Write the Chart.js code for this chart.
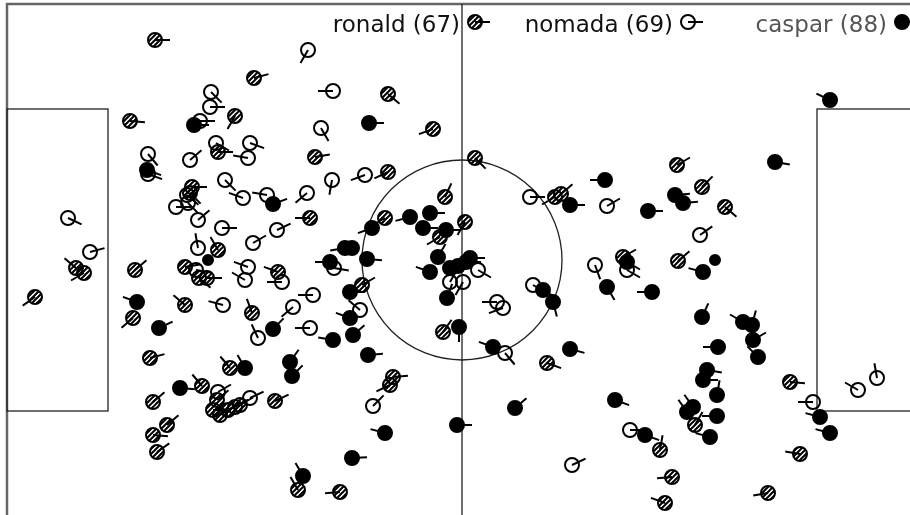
<!DOCTYPE html>
<html>
<head>
<meta charset="utf-8">
<script src="https://cdn.jsdelivr.net/npm/chart.js@4.4.1/dist/chart.umd.min.js"></script>
<style>
  body { margin: 0; background: #fff; }
  #wrap { width: 910px; height: 515px; }
</style>
</head>
<body>
<div id="wrap"><canvas id="pitch"></canvas></div>
<script>

// [x, y, direction in degrees, 0 = right, 90 = down]; null direction = no tick
const ronald = [
  [155,40,0],[254,78,-15],[388,94,40],[130,121,5],[235,116,120],[433,129,160],
  [218,152,0],[192,187,0],[190,193,45],[218,250,-120],[315,157,-10],[388,172,155],
  [310,218,180],[445,197,-65],[475,158,45],[555,197,150],[561,194,-40],[385,218,150],
  [440,237,150],[465,222,120],[362,285,-30],[443,332,-55],[393,377,-5],[547,363,20],
  [623,257,-30],[678,261,-40],[677,165,-30],[702,187,-45],[725,207,40],[76,268,-140],
  [84,273,150],[35,297,145],[135,270,-40],[185,267,-10],[199,278,40],[207,278,0],
  [278,272,200],[133,318,140],[185,305,220],[252,313,-110],[150,358,-15],[230,368,-130],
  [202,386,-130],[153,402,-40],[217,400,-40],[213,410,0],[220,415,-30],[228,410,-30],
  [235,407,-30],[240,405,-30],[275,401,-25],[167,425,-40],[153,435,5],[157,452,-35],
  [298,490,-120],[340,492,175],[390,385,155],[695,425,-60],[660,450,-80],[672,477,175],
  [665,503,200],[768,493,170],[800,454,190],[790,382,5]
]

const nomada = [
  [308,50,120],[333,91,180],[211,92,45],[210,107,0],[200,121,0],[321,128,60],
  [216,143,30],[190,160,-40],[250,143,20],[248,158,190],[148,154,50],[148,174,20],
  [225,180,45],[243,198,200],[187,195,40],[176,207,0],[188,203,45],[198,220,-40],
  [222,228,0],[253,243,-30],[277,230,-25],[267,195,190],[198,248,-100],[90,252,-15],
  [68,218,25],[332,180,100],[307,193,140],[365,175,160],[530,197,0],[607,206,-30],
  [700,235,-35],[334,268,10],[478,270,30],[450,282,-60],[463,282,120],[360,310,220],
  [313,295,180],[310,328,180],[533,285,30],[497,302,180],[503,308,160],[505,353,50],
  [595,265,70],[627,270,30],[196,270,10],[248,267,200],[245,280,210],[282,282,180],
  [223,305,195],[258,338,-115],[293,307,140],[218,392,-30],[250,398,-25],[373,406,-45],
  [572,465,-25],[630,430,0],[813,402,180],[858,390,210],[877,378,-100]
]

const caspar = [
  [830,100,205],[194,125,0],[369,123,0],[147,170,20],[273,204,-20],[570,205,0],
  [605,180,180],[410,217,165],[430,213,0],[423,228,0],[446,230,0],[372,228,160],
  [345,248,170],[352,248,170],[367,259,5],[330,262,180],[438,257,-60],[430,272,200],
  [450,268,0],[458,266,0],[466,262,0],[470,258,0],[447,298,-70],[350,292,0],
  [350,318,200],[353,335,-40],[333,340,190],[368,355,-5],[459,327,90],[543,290,30],
  [553,302,75],[493,347,200],[570,349,15],[627,262,30],[715,260,null],[703,272,195],
  [607,287,60],[652,292,180],[702,317,-65],[743,322,-150],[752,325,-75],[753,340,-30],
  [758,357,-135],[718,347,180],[707,370,10],[703,380,0],[775,162,10],[648,211,0],
  [675,195,-5],[683,203,-5],[208,260,null],[137,302,200],[159,328,-25],[273,329,-45],
  [245,368,-120],[290,362,-55],[292,376,-45],[180,388,5],[303,476,-120],[385,433,195],
  [352,458,-3],[457,425,0],[515,408,-40],[615,400,20],[717,395,-80],[687,412,-125],
  [693,407,-125],[717,416,180],[710,437,195],[645,435,20],[820,417,195],[830,433,195]
]

const seriesNames = ["ronald (67)", "nomada (69)", "caspar (88)"]


function hatch(){
    const c = document.createElement("canvas")
    const s = 5
    c.width = s
    c.height = s
    const g = c.getContext("2d")
    g.strokeStyle = "#000"
    g.lineWidth = 2
    g.beginPath()
    g.moveTo(0, s); g.lineTo(s, 0)
    g.moveTo(-1, 1); g.lineTo(1, -1)
    g.moveTo(s - 1, s + 1); g.lineTo(s + 1, s - 1)
    g.stroke()
    return g.createPattern(c, "repeat")
}

const hatched = hatch()
const fills = [hatched, "rgba(0,0,0,0)", "#000"]
const textColors = ["#111", "#111", "#555"]

function toPoints(list){
    return list.map(p => ({x: p[0], y: p[1], dir: p[2]}))
}

const datasets = []

;[ronald, nomada, caspar].forEach((list, i) => {

    datasets.push({
        label: seriesNames[i],
        data: toPoints(list),
        pointStyle: "circle",
        pointRadius: ctx => ctx.raw && ctx.raw.dir === null ? 5 : 7,
        pointBorderWidth: 2,
        pointBorderColor: "#000",
        pointBackgroundColor: fills[i],
        order: 2 * (2 - i) + 2
    })

    datasets.push({
        label: seriesNames[i] + " dir",
        data: toPoints(list).filter(p => p.dir !== null),
        pointStyle: "dash",
        pointRadius: 15,
        pointRotation: ctx => ctx.raw ? ctx.raw.dir : 0,
        pointBorderWidth: 2,
        pointBorderColor: "#000",
        order: 2 * (2 - i) + 1
    })

})


const pitchLines = {
    id: "pitchLines",
    beforeDatasetsDraw(chart){
        const {ctx} = chart
        const sx = chart.scales.x
        const sy = chart.scales.y
        const px = v => sx.getPixelForValue(v)
        const py = v => sy.getPixelForValue(v)

        ctx.save()

        // outer frame
        ctx.strokeStyle = "#666"
        ctx.lineWidth = 2.5
        ctx.beginPath()
        ctx.moveTo(px(7), py(520))
        ctx.lineTo(px(7), py(4))
        ctx.lineTo(px(915), py(4))
        ctx.stroke()

        ctx.strokeStyle = "#222"
        ctx.lineWidth = 1.3

        // penalty boxes
        ctx.strokeRect(px(7), py(109), px(108) - px(7), py(411) - py(109))
        ctx.strokeRect(px(817), py(109), px(915) - px(817), py(411) - py(109))

        // halfway line
        ctx.beginPath()
        ctx.moveTo(px(462), py(4))
        ctx.lineTo(px(462), py(520))
        ctx.stroke()

        // centre circle
        ctx.beginPath()
        ctx.arc(px(462), py(260), px(562) - px(462), 0, Math.PI * 2)
        ctx.stroke()

        ctx.restore()
    }
}


const pitchLegend = {
    id: "pitchLegend",
    afterDatasetsDraw(chart){
        const {ctx} = chart
        const centers = [475, 688, 902]
        const y = 22

        ctx.save()
        ctx.font = "23px 'DejaVu Sans'"
        ctx.textAlign = "right"
        ctx.textBaseline = "alphabetic"

        seriesNames.forEach((name, i) => {

            const cx = centers[i]

            ctx.fillStyle = textColors[i]
            ctx.fillText(name, cx - 15, 32)

            ctx.beginPath()
            ctx.arc(cx, y, 7, 0, Math.PI * 2)
            ctx.fillStyle = fills[i]
            ctx.fill()
            ctx.lineWidth = 2
            ctx.strokeStyle = "#000"
            ctx.stroke()

            ctx.beginPath()
            ctx.moveTo(cx, y)
            ctx.lineTo(cx + 15, y)
            ctx.lineWidth = 2
            ctx.stroke()

        })

        ctx.restore()
    }
}


new Chart(document.getElementById("pitch"), {

    type: "scatter",

    data: {datasets: datasets},

    options: {
        responsive: true,
        maintainAspectRatio: false,
        animation: false,
        layout: {padding: 0, autoPadding: false},
        plugins: {
            legend: {display: false},
            tooltip: {enabled: false}
        },
        scales: {
            x: {type: "linear", min: 0, max: 910, display: false},
            y: {type: "linear", min: 0, max: 515, reverse: true, display: false}
        }
    },

    plugins: [pitchLines, pitchLegend]

})

</script>
</body>
</html>
